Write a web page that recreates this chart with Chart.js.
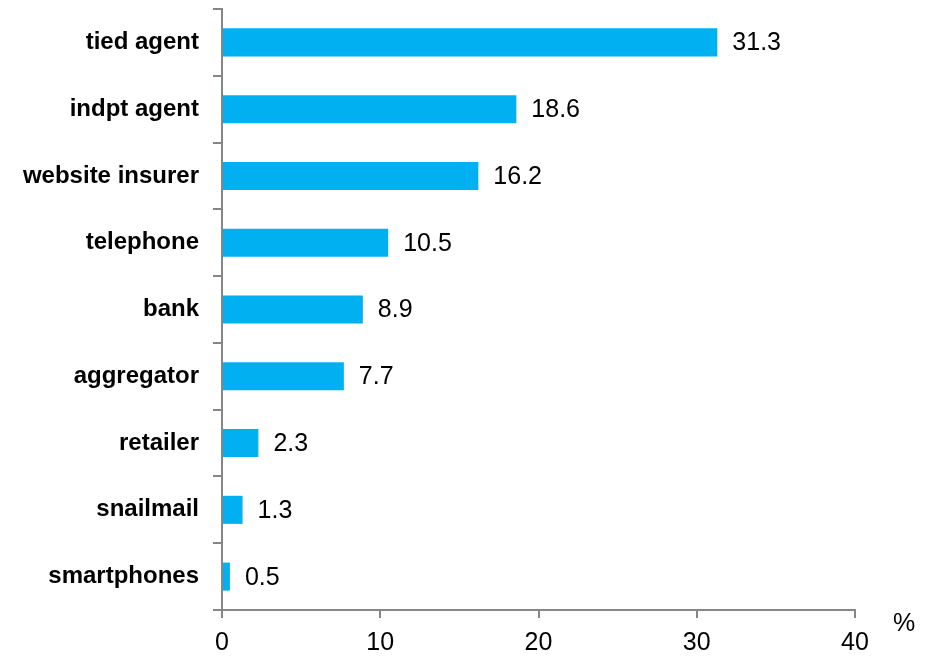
<!DOCTYPE html>
<html>
<head>
<meta charset="utf-8">
<script src="https://cdn.jsdelivr.net/npm/chart.js@4"></script>
<style>
  html, body { margin: 0; padding: 0; background: #fff; }
  #wrap { width: 934px; height: 656px; position: relative; }
</style>
</head>
<body>
<div id="wrap"><canvas id="chart"></canvas></div>
<script>
  // Channel shares, top to bottom
  const channels = ['tied agent', 'indpt agent', 'website insurer', 'telephone', 'bank',
                    'aggregator', 'retailer', 'snailmail', 'smartphones'];
  const shares   = [31.3, 18.6, 16.2, 10.5, 8.9, 7.7, 2.3, 1.3, 0.5];
  const xTicks   = [0, 10, 20, 30, 40];
  const unitLabel = '%';

  const AXIS_C = '#868686';
  const BAR_C  = '#00B0F0';
  const FONT   = '"Liberation Sans", Arial, sans-serif';

  // value label just past each bar end, plus the unit mark beside the x axis
  const valueLabels = {
    id: 'valueLabels',
    afterDatasetsDraw(chart) {
      const ctx = chart.ctx;
      const meta = chart.getDatasetMeta(0);
      ctx.save();
      ctx.font = '25px ' + FONT;
      ctx.fillStyle = '#000';
      ctx.textAlign = 'left';
      ctx.textBaseline = 'middle';
      meta.data.forEach((bar, i) => {
        ctx.fillText(shares[i].toFixed(1), bar.x + 15, bar.y + 1);
      });
      const area = chart.chartArea;
      ctx.textAlign = 'center';
      ctx.fillText(unitLabel, area.right + 49, area.bottom + 14);
      ctx.restore();
    },
  };

  new Chart(document.getElementById('chart'), {
    type: 'bar',
    data: {
      labels: channels,
      datasets: [{
        data: shares,
        backgroundColor: BAR_C,
        borderWidth: 0,
        categoryPercentage: 1,
        barPercentage: 0.42,
      }],
    },
    options: {
      indexAxis: 'y',
      responsive: true,
      maintainAspectRatio: false,
      animation: false,
      layout: { padding: { top: 9, right: 79, bottom: 0, left: 0 } },
      scales: {
        x: {
          min: 0,
          max: 40,
          afterBuildTicks: s => { s.ticks = xTicks.map(v => ({ value: v })); },
          afterFit: s => { s.height = 46; s.paddingLeft = 0; s.paddingRight = 0; },
          border: { color: AXIS_C, width: 2 },
          grid: { drawOnChartArea: false, drawTicks: true, tickLength: 8, color: AXIS_C, lineWidth: 2 },
          ticks: { color: '#000', padding: 10, maxRotation: 0, font: { family: FONT, size: 25 } },
        },
        y: {
          // keep the plot top fixed instead of reserving room for label halves
          afterFit: s => { s.width = 222; s.paddingTop = 0; s.paddingBottom = 0; },
          border: { color: AXIS_C, width: 2 },
          grid: { drawOnChartArea: false, drawTicks: true, tickLength: 9, color: AXIS_C, lineWidth: 2 },
          ticks: { color: '#000', padding: 14, font: { family: FONT, size: 24, weight: 'bold' } },
        },
      },
      plugins: {
        legend: { display: false },
        tooltip: { enabled: false },
      },
    },
    plugins: [valueLabels],
  });
</script>
</body>
</html>
